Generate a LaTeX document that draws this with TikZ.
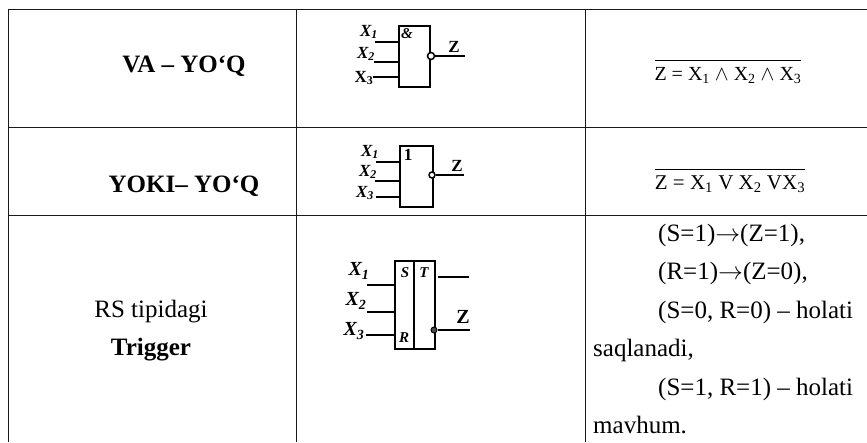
\documentclass[tikz,border=0pt]{standalone}
\usepackage{fontspec}
\setmainfont{Liberation Serif}
\tikzset{
  rule/.style={line width=1pt,black!90},
  gate/.style={line width=2pt},
  wire/.style={line width=1.3pt},
  bub/.style={circle,draw,line width=1.5pt,fill=white,inner sep=0pt,minimum size=7pt},
  lab/.style={inner sep=0pt,font=\fontsize{17}{17}\selectfont\bfseries\itshape},
  labu/.style={inner sep=0pt,font=\fontsize{17}{17}\selectfont\bfseries},
  biglab/.style={inner sep=0pt,font=\fontsize{20}{20}\selectfont\bfseries\itshape},
  pin/.style={inner sep=0pt,font=\fontsize{15}{15}\selectfont\bfseries\itshape},
  cell/.style={inner sep=0pt,anchor=base,font=\fontsize{25}{25}\selectfont},
  head/.style={cell,font=\fontsize{25}{25}\selectfont\bfseries},
  para/.style={inner sep=0pt,anchor=base west,font=\fontsize{25}{25}\selectfont},
  frma/.style={inner sep=0pt,anchor=base,font=\fontsize{20}{20}\selectfont},
  frmb/.style={inner sep=0pt,anchor=base,font=\fontsize{21}{21}\selectfont},
}
\begin{document}
\begin{tikzpicture}[x=1pt,y=-1pt]
\useasboundingbox (0,0) rectangle (867,442);
\coordinate (tl) at (8,9); \coordinate (tr) at (867,9);
\coordinate (al) at (8,127); \coordinate (ar) at (867,127);
\coordinate (bl) at (8,215); \coordinate (br) at (867,215);
\coordinate (el) at (8,442);
\coordinate (c1t) at (296,9); \coordinate (c1b) at (296,442);
\coordinate (c2t) at (585,9); \coordinate (c2b) at (585,442);
\draw[rule] (tl)--(tr) (al)--(ar) (bl)--(br) (tl)--(el) (c1t)--(c1b) (c2t)--(c2b);
\node[head] (h1) at (184,72) {VA -- YO‘Q};
\node[head] (h2) at (184,192) {YOKI-- YO‘Q};
\node[cell] (h3) at (151,317) {RS tipidagi};
\node[head] (h4) at (151,355) {Trigger};
% gate 1
\node[draw,gate,minimum width=31pt,minimum height=61pt,inner sep=0pt] (g1) at (414.5,56.5) {};
\node[lab] (a1) at (369,32) {X\textsubscript{1}};
\node[lab] (a2) at (366,54) {X\textsubscript{2}};
\node[labu] (a3) at (364,78) {X\textsubscript{3}};
\node[pin] (amp) at (407,34) {\&};
\node[labu] (z1) at (454,47) {Z};
\coordinate (a1w) at (375,42); \coordinate (a2w) at (374,62); \coordinate (a3w) at (373,77);
\coordinate (w1) at (399,42); \coordinate (w2) at (399,62); \coordinate (w3) at (399,77);
\draw[wire] (a1w)--(w1) (a2w)--(w2) (a3w)--(w3);
\node[bub] (b1) at (431,56) {};
\coordinate (o1) at (465,56);
\draw[wire] (b1)--(o1);
% gate 2
\node[draw,gate,minimum width=33pt,minimum height=61pt,inner sep=0pt] (g2) at (416.5,176.5) {};
\node[lab] (c1) at (370,152) {X\textsubscript{1}};
\node[lab] (c2) at (368,172) {X\textsubscript{2}};
\node[lab] (c3) at (365,193) {X\textsubscript{3}};
\node[labu] (one) at (408,155) {1};
\node[labu] (z2) at (457,166) {Z};
\coordinate (c1w) at (376,162); \coordinate (c2w) at (375,181); \coordinate (c3w) at (376,197);
\coordinate (d1) at (400,162); \coordinate (d2) at (400,181); \coordinate (d3) at (400,197);
\draw[wire] (c1w)--(d1) (c2w)--(d2) (c3w)--(d3);
\node[bub,minimum size=6pt] (b2) at (432,175) {};
\coordinate (o2) at (464,175);
\draw[wire] (b2)--(o2);
% trigger
\node[draw,gate,minimum width=40pt,minimum height=88pt,inner sep=0pt] (g3) at (415,305) {};
\coordinate (s1) at (414,261); \coordinate (s2) at (414,349);
\draw[gate] (s1)--(s2);
\node[pin] (s) at (405,273) {S};
\node[pin] (t) at (424,273) {T};
\node[pin] (r) at (404,338) {R};
\node[biglab] (x1) at (359,271) {X\textsubscript{1}};
\node[biglab] (x2) at (356,301) {X\textsubscript{2}};
\node[biglab] (x3) at (354,331) {X\textsubscript{3}};
\node[biglab,font=\fontsize{20}{20}\selectfont\bfseries] (z3) at (463,317) {Z};
\coordinate (x1w) at (367,285); \coordinate (x2w) at (367,312); \coordinate (x3w) at (366,335);
\coordinate (e1) at (395,285); \coordinate (e2) at (395,312); \coordinate (e3) at (395,335);
\draw[wire] (x1w)--(e1) (x2w)--(e2) (x3w)--(e3);
\coordinate (q1) at (438,277); \coordinate (q2) at (469,277);
\draw[wire] (q1)--(q2);
\node[circle,fill=black!70,draw=black,line width=1pt,inner sep=0pt,minimum size=6pt] (b3) at (434,330) {};
\coordinate (o3) at (470,330);
\draw[wire] (b3)--(o3);
% formulas
\node[frma] (f1) at (728,80) {$\overline{\mbox{\rule{0pt}{18pt}Z = X\textsubscript{1} $\wedge$ X\textsubscript{2} $\wedge$ X\textsubscript{3}}}$};
\node[frmb] (f2) at (730,189) {$\overline{\mbox{\rule{0pt}{18pt}Z = X\textsubscript{1} V X\textsubscript{2} VX\textsubscript{3}}}$};
% right text
\node[para] (r1) at (658,241) {(S=1)$\rightarrow$(Z=1),};
\node[para] (r2) at (658,279.5) {(R=1)$\rightarrow$(Z=0),};
\node[para] (r3) at (658,318) {(S=0, R=0) -- holati};
\node[para] (r4) at (593,356.5) {saqlanadi,};
\node[para] (r5) at (658,395) {(S=1, R=1) -- holati};
\node[para] (r6) at (593,433.5) {mavhum.};
\end{tikzpicture}
\end{document}
